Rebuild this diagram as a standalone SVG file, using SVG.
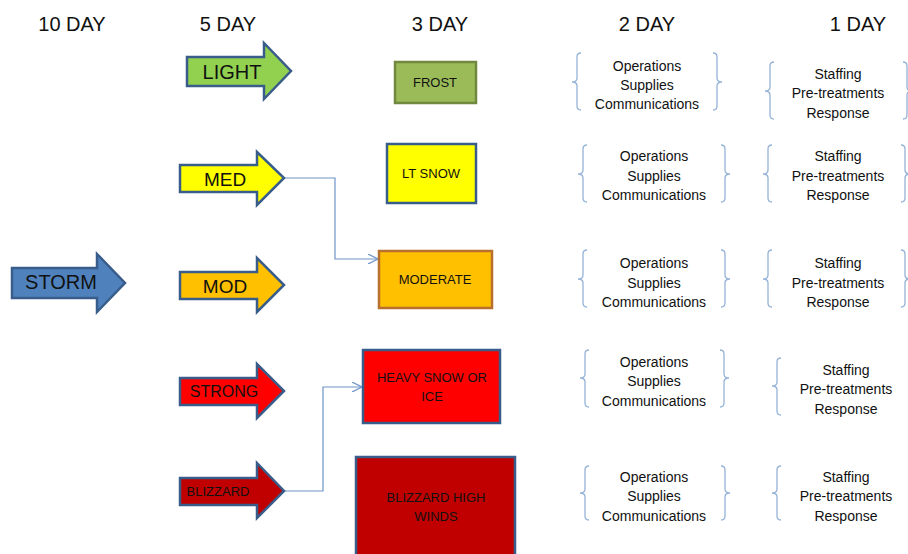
<svg xmlns="http://www.w3.org/2000/svg" width="908" height="554" viewBox="0 0 908 554">
<defs>
<style>
text{font-family:"Liberation Sans",Arial,sans-serif;fill:#111;text-anchor:middle}
.hdr{font-size:20px}
.arr{stroke:#385D8A;stroke-width:2.5;stroke-linejoin:miter}
.box{stroke-width:2.5}
.brace{fill:none;stroke:#95B3D7;stroke-width:1.3}
.lst{font-size:14px}
.conn{fill:none;stroke:#6F94C8;stroke-width:1.2}
</style>
<marker id="open" viewBox="0 0 10 10" refX="10" refY="5" markerWidth="10" markerHeight="10" markerUnits="userSpaceOnUse" orient="auto">
<path d="M0,0 L10,5 L0,10" fill="none" stroke="#6F94C8" stroke-width="1.2"/>
</marker>
</defs>
<rect width="908" height="554" fill="#fff"/>
<g id="headers">
<text class="hdr" x="72" y="31">10 DAY</text>
<text class="hdr" x="228" y="31">5 DAY</text>
<text class="hdr" x="440" y="31">3 DAY</text>
<text class="hdr" x="647" y="31">2 DAY</text>
<text class="hdr" x="858" y="31">1 DAY</text>
</g>
<g id="connectors">
<path class="conn" d="M284,178 H335 V259 H378" marker-end="url(#open)"/>
<path class="conn" d="M284,491 H323 V387 H362" marker-end="url(#open)"/>
</g>
<g id="storm">
<polygon class="arr" fill="#4F81BD" points="12,268 97,268 97,254 125,283 97,312 97,298 12,298"/>
<text x="61" y="289" font-size="20">STORM</text>
</g>
<g id="light">
<polygon class="arr" fill="#92D050" points="187,57 264,57 264,43 291,71 264,99 264,86 187,86"/>
<text x="232" y="79" font-size="20">LIGHT</text>
</g>
<g id="med">
<polygon class="arr" fill="#FFFF00" points="180,165 257,165 257,152 284,178 257,205 257,192 180,192"/>
<text x="225" y="186" font-size="19">MED</text>
</g>
<g id="mod">
<polygon class="arr" fill="#FFC000" points="180,272 257,272 257,258 284,285 257,312 257,299 180,299"/>
<text x="225" y="293" font-size="19">MOD</text>
</g>
<g id="strong">
<polygon class="arr" fill="#FF0000" points="180,378 257,378 257,364 284,391 257,418 257,405 180,405"/>
<text x="224" y="397" font-size="16">STRONG</text>
</g>
<g id="blizzard">
<polygon class="arr" fill="#C00000" points="180,478 257,478 257,463 284,491 257,518 257,505 180,505"/>
<text x="218" y="496" font-size="13">BLIZZARD</text>
</g>
<g id="frost">
<rect class="box" x="395" y="62" width="81" height="41" fill="#9BBB59" stroke="#71893F"/>
<text x="435" y="87" font-size="13">FROST</text>
</g>
<g id="ltsnow">
<rect class="box" x="387" y="144" width="89" height="59" fill="#FFFF00" stroke="#385D8A"/>
<text x="431" y="178" font-size="13">LT SNOW</text>
</g>
<g id="moderate">
<rect class="box" x="379" y="251" width="113" height="57" fill="#FFC000" stroke="#B8702F"/>
<text x="435" y="284" font-size="13">MODERATE</text>
</g>
<g id="heavy">
<rect class="box" x="363" y="350" width="137" height="73" fill="#FF0000" stroke="#385D8A"/>
<text x="432" y="382" font-size="13">HEAVY SNOW OR</text>
<text x="432" y="401" font-size="13">ICE</text>
</g>
<g id="blizzardhigh">
<rect class="box" x="356" y="457" width="159" height="110" fill="#C00000" stroke="#385D8A"/>
<text x="436" y="502" font-size="13">BLIZZARD HIGH</text>
<text x="436" y="521" font-size="13">WINDS</text>
</g>
<g id="ops1">
<path class="brace" d="M581,53 Q577,53 577,57 L577,78 Q577,82 572,82 Q577,82 577,86 L577,106 Q577,110 581,110"/>
<path class="brace" d="M713,53 Q717,53 717,57 L717,78 Q717,82 722,82 Q717,82 717,86 L717,106 Q717,110 713,110"/>
<text class="lst" x="647" y="71">Operations</text>
<text class="lst" x="647" y="90">Supplies</text>
<text class="lst" x="647" y="109">Communications</text>
</g>
<g id="ops2">
<path class="brace" d="M587,145 Q583,145 583,149 L583,170 Q583,174 578,174 Q583,174 583,178 L583,198 Q583,202 587,202"/>
<path class="brace" d="M721,145 Q725,145 725,149 L725,170 Q725,174 730,174 Q725,174 725,178 L725,198 Q725,202 721,202"/>
<text class="lst" x="654" y="161">Operations</text>
<text class="lst" x="654" y="181">Supplies</text>
<text class="lst" x="654" y="200">Communications</text>
</g>
<g id="ops3">
<path class="brace" d="M587,250 Q583,250 583,254 L583,275 Q583,279 578,279 Q583,279 583,283 L583,303 Q583,307 587,307"/>
<path class="brace" d="M721,250 Q725,250 725,254 L725,275 Q725,279 730,279 Q725,279 725,283 L725,303 Q725,307 721,307"/>
<text class="lst" x="654" y="268">Operations</text>
<text class="lst" x="654" y="288">Supplies</text>
<text class="lst" x="654" y="307">Communications</text>
</g>
<g id="ops4">
<path class="brace" d="M589,350 Q585,350 585,354 L585,374 Q585,378 580,378 Q585,378 585,382 L585,403 Q585,407 589,407"/>
<path class="brace" d="M720,350 Q724,350 724,354 L724,374 Q724,378 729,378 Q724,378 724,382 L724,403 Q724,407 720,407"/>
<text class="lst" x="654" y="367">Operations</text>
<text class="lst" x="654" y="386">Supplies</text>
<text class="lst" x="654" y="406">Communications</text>
</g>
<g id="ops5">
<path class="brace" d="M589,466 Q585,466 585,470 L585,489 Q585,493 580,493 Q585,493 585,497 L585,516 Q585,520 589,520"/>
<path class="brace" d="M721,466 Q725,466 725,470 L725,489 Q725,493 730,493 Q725,493 725,497 L725,516 Q725,520 721,520"/>
<text class="lst" x="654" y="482">Operations</text>
<text class="lst" x="654" y="501">Supplies</text>
<text class="lst" x="654" y="521">Communications</text>
</g>
<g id="staff1">
<path class="brace" d="M774,62 Q770,62 770,66 L770,87 Q770,91 765,91 Q770,91 770,95 L770,115 Q770,119 774,119"/>
<path class="brace" d="M903,62 Q907,62 907,66 L907,87 Q907,91 912,91 Q907,91 907,95 L907,115 Q907,119 903,119"/>
<text class="lst" x="838" y="79">Staffing</text>
<text class="lst" x="838" y="98">Pre-treatments</text>
<text class="lst" x="838" y="118">Response</text>
</g>
<g id="staff2">
<path class="brace" d="M772,145 Q768,145 768,149 L768,170 Q768,174 763,174 Q768,174 768,178 L768,198 Q768,202 772,202"/>
<path class="brace" d="M901,145 Q905,145 905,149 L905,170 Q905,174 910,174 Q905,174 905,178 L905,198 Q905,202 901,202"/>
<text class="lst" x="838" y="161">Staffing</text>
<text class="lst" x="838" y="181">Pre-treatments</text>
<text class="lst" x="838" y="200">Response</text>
</g>
<g id="staff3">
<path class="brace" d="M772,250 Q768,250 768,254 L768,275 Q768,279 763,279 Q768,279 768,283 L768,303 Q768,307 772,307"/>
<path class="brace" d="M901,250 Q905,250 905,254 L905,275 Q905,279 910,279 Q905,279 905,283 L905,303 Q905,307 901,307"/>
<text class="lst" x="838" y="268">Staffing</text>
<text class="lst" x="838" y="288">Pre-treatments</text>
<text class="lst" x="838" y="307">Response</text>
</g>
<g id="staff4">
<path class="brace" d="M781,358 Q777,358 777,362 L777,382 Q777,386 772,386 Q777,386 777,390 L777,411 Q777,415 781,415"/>
<text class="lst" x="846" y="375">Staffing</text>
<text class="lst" x="846" y="394">Pre-treatments</text>
<text class="lst" x="846" y="414">Response</text>
</g>
<g id="staff5">
<path class="brace" d="M781,466 Q777,466 777,470 L777,489 Q777,493 772,493 Q777,493 777,497 L777,516 Q777,520 781,520"/>
<text class="lst" x="846" y="482">Staffing</text>
<text class="lst" x="846" y="501">Pre-treatments</text>
<text class="lst" x="846" y="521">Response</text>
</g>
</svg>
